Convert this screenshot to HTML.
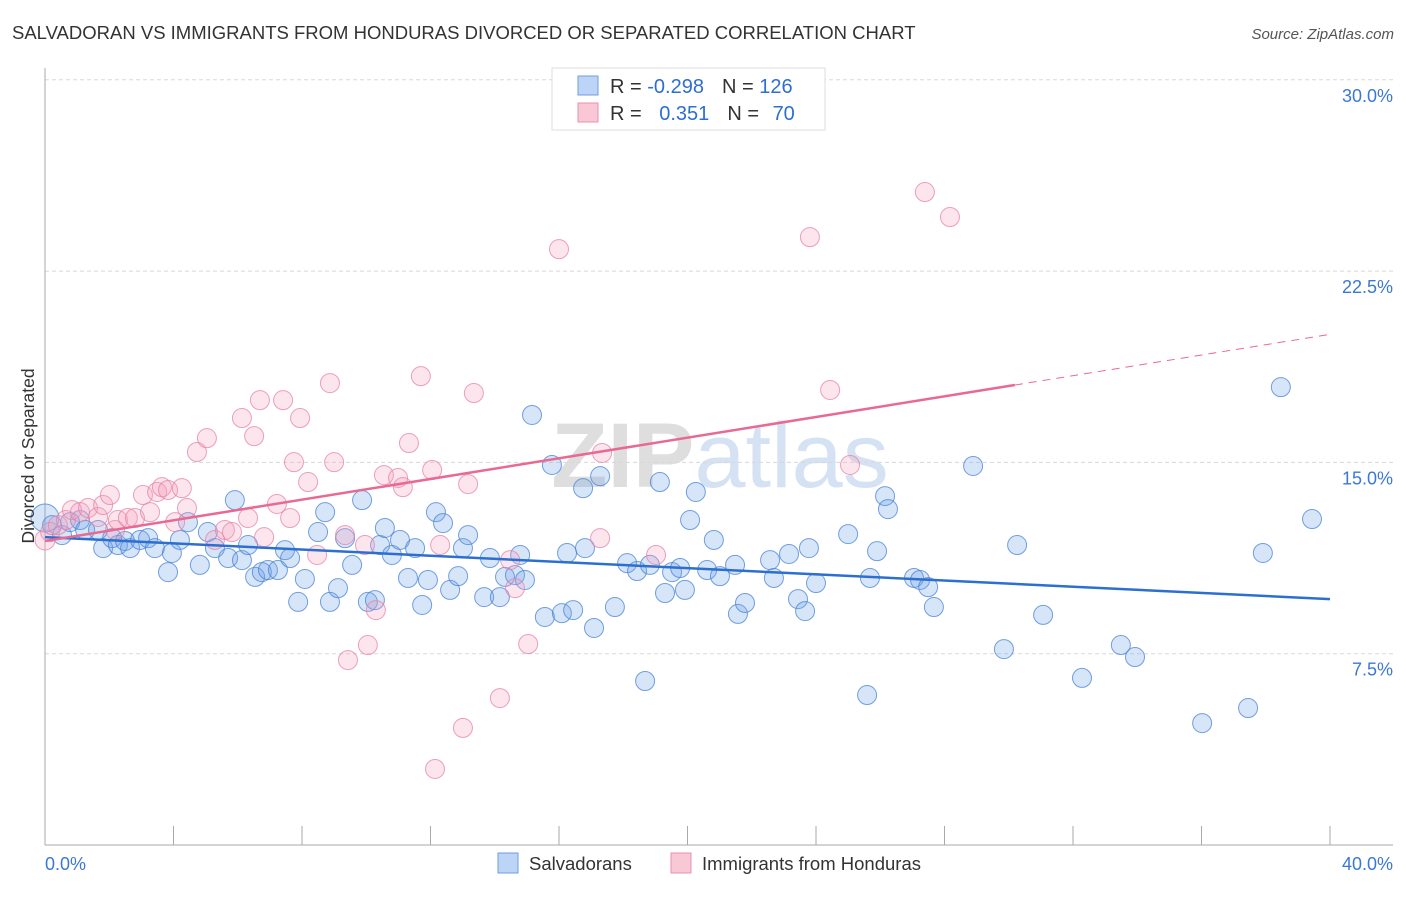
<!DOCTYPE html>
<html><head><meta charset="utf-8"><style>
body{margin:0;background:#fff;font-family:"Liberation Sans",sans-serif}
svg text{font-family:"Liberation Sans",sans-serif}
</style></head><body>
<svg width="1406" height="892" xmlns="http://www.w3.org/2000/svg">
<text x="12" y="39" font-size="18.5" fill="#333">SALVADORAN VS IMMIGRANTS FROM HONDURAS DIVORCED OR SEPARATED CORRELATION CHART</text>
<text x="1394" y="39" font-size="15" fill="#555" text-anchor="end" font-style="italic">Source: ZipAtlas.com</text>
<text x="720" y="487" font-size="92" fill="#e6e6e6" text-anchor="middle" font-family="Liberation Serif"><tspan font-weight="bold" fill="#dedede">ZIP</tspan><tspan fill="#d5e2f4">atlas</tspan></text>
<g id="grid"></g>
<g id="axes"></g>
<g id="pts"></g>
<g id="trend"></g>
<text transform="translate(34,456) rotate(-90)" font-size="17.5" fill="#333" text-anchor="middle">Divorced or Separated</text>
<g>
<rect x="552" y="68" width="273" height="62" fill="#fff" stroke="#ddd"/>
<rect x="578" y="76" width="20" height="19" fill="#bcd4f5" stroke="#6f9ee0"/>
<rect x="578" y="103" width="20" height="19" fill="#f9c8d7" stroke="#e892ad"/>
<text x="610" y="93" font-size="20" fill="#333">R = <tspan fill="#2c6fd1">-0.298</tspan><tspan dx="18">N = </tspan><tspan fill="#2c6fd1">126</tspan></text>
<text x="610" y="120" font-size="20" fill="#333">R = <tspan fill="#2c6fd1" dx="12">0.351</tspan><tspan dx="18">N = </tspan><tspan fill="#2c6fd1" dx="8">70</tspan></text>
</g>
<g>
<rect x="498" y="853" width="20" height="20" fill="#bcd4f5" stroke="#6f9ee0"/>
<text x="529" y="870" font-size="18.5" fill="#333">Salvadorans</text>
<rect x="671" y="853" width="20" height="20" fill="#f9c8d7" stroke="#e892ad"/>
<text x="702" y="870" font-size="18.5" fill="#333">Immigrants from Honduras</text>
</g>
</svg>
<script>
const yTicks=[7.5,15,22.5,30];
const yTickLabels=["7.5%","15.0%","22.5%","30.0%"];
const xTicks=[0,4,8,12,16,20,24,28,32,36,40];
const xEndLabels=["0.0%","40.0%"];
const blueX=[0,0.22,0.53,0.78,1.09,1.25,1.65,1.81,2.09,2.27,2.49,2.65,2.96,3.21,3.42,3.83,3.95,4.2,4.45,4.82,5.07,5.29,5.7,5.91,6.13,6.32,6.54,6.75,6.94,7.25,7.47,7.63,7.88,8.09,8.5,8.72,8.87,9.12,9.34,9.56,9.87,10.05,10.27,10.43,10.58,10.8,11.05,11.3,11.52,11.74,11.92,12.17,12.39,12.61,12.86,13.01,13.17,13.67,13.85,14.16,14.32,14.63,14.79,14.94,15.16,15.56,15.78,16.09,16.25,16.44,16.75,16.81,17.09,17.28,17.74,18.12,18.43,18.68,18.83,19.14,19.3,19.52,19.77,19.92,20.08,20.26,20.61,20.82,21.01,21.48,21.57,21.79,22.57,22.69,23.16,23.44,23.66,23.78,24,25,25.59,25.68,25.9,26.15,26.24,27.05,27.24,27.49,27.67,28.89,29.85,30.26,31.07,32.28,33.49,33.93,36.02,37.45,37.91,38.47,39.44];
const blueY=[12.82,12.54,12.15,12.66,12.74,12.35,12.35,11.64,12.03,11.76,11.92,11.64,11.96,12.03,11.64,10.7,11.45,11.96,12.66,10.98,12.27,11.64,11.25,13.52,11.17,11.76,10.51,10.7,10.78,10.78,11.56,11.25,9.53,10.43,12.27,13.05,9.53,10.07,12.03,10.98,13.52,9.53,9.6,11.76,12.43,11.37,11.96,10.47,11.64,9.41,10.39,13.05,12.62,10,10.54,11.64,12.15,9.72,11.25,9.72,10.51,10.58,11.37,10.39,16.86,8.94,14.9,9.09,11.45,9.21,13.99,11.64,8.51,14.46,9.33,11.05,10.74,6.43,10.98,14.23,9.88,10.7,10.86,10,12.74,13.84,10.78,11.96,10.54,10.98,9.06,9.49,11.17,10.47,11.41,9.64,9.17,11.64,10.27,12.19,5.88,10.47,11.52,13.68,13.17,10.47,10.39,10.11,9.33,14.86,7.68,11.76,9.02,6.55,7.84,7.37,4.78,5.37,11.45,17.95,12.78];
const pinkX=[0,0.16,0.4,0.65,0.84,1.09,1.34,1.65,1.81,2.02,2.18,2.27,2.58,2.8,3.05,3.27,3.49,3.64,3.83,4.05,4.26,4.42,4.73,5.04,5.29,5.6,5.82,6.13,6.32,6.51,6.69,6.82,7.22,7.41,7.63,7.75,7.94,8.19,8.47,8.87,9,9.34,9.43,9.96,10.05,10.3,10.55,10.99,11.14,11.33,11.7,12.05,12.14,12.3,13.01,13.17,13.35,14.16,14.48,14.63,15.04,16,17.28,17.34,19.02,23.81,24.44,25.06,27.39,28.17];
const pinkY=[11.96,12.27,12.54,12.74,13.13,13.05,13.21,12.86,13.33,13.72,12.35,12.74,12.82,12.82,13.72,13.05,13.84,14.03,13.92,12.66,13.99,13.21,15.41,15.95,11.96,12.35,12.27,16.74,12.82,16.03,17.44,12.07,13.37,17.44,12.82,15.01,16.74,14.23,11.37,18.11,15.01,12.15,7.25,11.76,7.84,9.21,14.5,14.39,14.03,15.76,18.38,14.7,2.98,11.76,4.59,14.15,17.72,5.76,11.17,10.07,7.88,23.36,12.03,15.37,11.37,23.83,17.84,14.9,25.6,24.62];
const blueTrend=[12.07,9.64];
const pinkTrend=[11.92,20.02];
const pinkSolidEnd=30.19;

const NS="http://www.w3.org/2000/svg";
const X=v=>45+v/40*1285;
const Y=v=>845-v/7.5*191.3;
function mk(tag,attrs,parent){const e=document.createElementNS(NS,tag);for(const k in attrs)e.setAttribute(k,attrs[k]);parent.appendChild(e);return e;}
const grid=document.getElementById('grid'),axes=document.getElementById('axes'),pts=document.getElementById('pts'),tr=document.getElementById('trend');
yTicks.forEach((t,i)=>{
 const l=mk('line',{x1:45,x2:1393,y1:Y(t),y2:Y(t),stroke:'#d8d8d8','stroke-dasharray':'4,3'},grid);
 
 
 const tx=mk('text',{x:1393,y:Y(t)+22,'font-size':18,fill:'#3b78d6','text-anchor':'end'},grid);
 tx.textContent=yTickLabels[i];
 
 
});
const ax=mk('line',{x1:45,x2:45,y1:68,y2:845,stroke:'#aaa'},axes);


const bx=mk('line',{x1:45,x2:1393,y1:845,y2:845,stroke:'#aaa'},axes);


xTicks.forEach(t=>{
 const l=mk('line',{x1:X(t),x2:X(t),y1:826,y2:845,stroke:'#aaa'},axes);
 
 
});
[[0,'start',45],[40,'end',1393]].forEach((a,i)=>{
 const tx=mk('text',{x:a[2],y:870,'font-size':18,fill:'#3b78d6','text-anchor':a[1]},axes);
 tx.textContent=xEndLabels[i];
 
 
});
function dots(xs,ys,fill,stroke,name,big){
 xs.forEach((x,i)=>{
  const r=(x===0)?big:9.5;
  const c=mk('circle',{cx:X(x),cy:Y(ys[i]),r:r,fill:fill,stroke:stroke,'stroke-width':1},pts);
  
  
 });
}
dots(blueX,blueY,'rgba(110,160,230,0.28)','rgba(70,130,215,0.75)','salvadoran-point',14);
dots(pinkX,pinkY,'rgba(245,160,190,0.28)','rgba(230,130,165,0.75)','honduras-point',10);
const bl=mk('line',{x1:X(0),y1:Y(blueTrend[0]),x2:X(40),y2:Y(blueTrend[1]),stroke:'#2c6fd1','stroke-width':2.5},tr);


const pm=pinkTrend[0]+(pinkTrend[1]-pinkTrend[0])*pinkSolidEnd/40;
const pl=mk('line',{x1:X(0),y1:Y(pinkTrend[0]),x2:X(pinkSolidEnd),y2:Y(pm),stroke:'#e86a93','stroke-width':2.5},tr);


const pd=mk('line',{x1:X(pinkSolidEnd),y1:Y(pm),x2:X(40),y2:Y(pinkTrend[1]),stroke:'#e86a93','stroke-width':1,'stroke-dasharray':'8,6'},tr);


</script>
</body></html>
